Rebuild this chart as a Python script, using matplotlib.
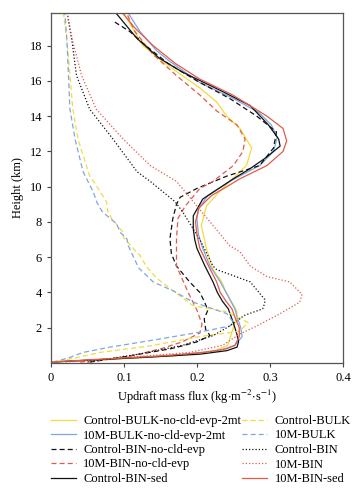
import matplotlib
matplotlib.use("Agg")
import matplotlib.pyplot as plt

plt.rcParams['font.family'] = ['Liberation Serif', 'DejaVu Serif']
plt.rcParams['mathtext.fontset'] = 'stix'

# (updraft mass flux, height km)
ctrl_bulk_2mt_h = [0.05, 0.2, 0.4, 0.7, 1.0, 1.5, 2.0, 2.5, 2.9, 3.3, 4.0, 4.6, 5.3, 6.5, 7.8, 8.9, 9.6, 10.3, 11.2, 12.2, 13.3, 14.0, 14.8, 15.6, 16.3, 17.1, 18.0, 19.9]
ctrl_bulk_2mt_x = [0.0, 0.08, 0.17, 0.225, 0.242, 0.246, 0.25, 0.254, 0.255, 0.25, 0.24, 0.234, 0.222, 0.213, 0.206, 0.213, 0.228, 0.245, 0.268, 0.275, 0.259, 0.241, 0.227, 0.204, 0.18, 0.153, 0.126, 0.099]

m10_bulk_2mt_h = [0.05, 0.2, 0.4, 0.7, 1.0, 1.5, 2.0, 2.5, 3.07, 4.0, 4.6, 5.5, 6.5, 7.3, 8.2, 8.75, 9.5, 10.3, 11.2, 12.0, 12.8, 13.5, 14.2, 15.0, 15.9, 17.1, 17.7, 18.8, 19.9]
m10_bulk_2mt_x = [0.0, 0.07, 0.16, 0.23, 0.252, 0.262, 0.26, 0.256, 0.252, 0.24, 0.232, 0.218, 0.208, 0.202, 0.2, 0.202, 0.215, 0.245, 0.286, 0.305, 0.31, 0.302, 0.285, 0.25, 0.204, 0.163, 0.145, 0.122, 0.105]

ctrl_bin_sed_h = [0.05, 0.2, 0.34, 0.5, 0.7, 0.9, 1.2, 1.6, 2.0, 2.5, 3.07, 3.5, 4.0, 4.6, 5.5, 6.5, 7.0, 7.6, 8.35, 9.3, 9.9, 10.45, 11.0, 11.6, 12.3, 12.7, 13.5, 14.6, 15.4, 16.0, 16.5, 17.3, 18.4, 19.9]
ctrl_bin_sed_x = [0.0, 0.07, 0.136, 0.204, 0.241, 0.255, 0.257, 0.255, 0.252, 0.248, 0.243, 0.235, 0.228, 0.222, 0.211, 0.2, 0.197, 0.195, 0.195, 0.208, 0.23, 0.25, 0.272, 0.293, 0.314, 0.312, 0.298, 0.273, 0.235, 0.205, 0.18, 0.148, 0.118, 0.088]

m10_bin_sed_h = [0.05, 0.2, 0.4, 0.6, 0.8, 1.0, 1.5, 2.0, 2.5, 3.07, 3.5, 4.0, 4.6, 5.5, 6.5, 7.3, 8.0, 8.8, 9.5, 10.0, 10.45, 11.2, 12.0, 12.6, 13.3, 14.0, 15.2, 16.1, 17.0, 18.0, 19.0, 19.9]
m10_bin_sed_x = [0.0, 0.06, 0.15, 0.21, 0.24, 0.252, 0.258, 0.258, 0.253, 0.248, 0.24, 0.232, 0.227, 0.216, 0.204, 0.2, 0.198, 0.203, 0.22, 0.241, 0.259, 0.296, 0.318, 0.323, 0.318, 0.296, 0.249, 0.204, 0.17, 0.14, 0.115, 0.097]

ctrl_bin_nocld_h = [0.05, 0.34, 0.8, 0.97, 1.2, 1.55, 1.9, 2.5, 3.0, 3.5, 4.0, 4.6, 5.5, 6.2, 7.05, 8.2, 9.0, 9.4, 9.9, 10.6, 11.2, 12.2, 13.1, 14.0, 15.0, 16.0, 17.0, 18.0, 18.8, 19.4]
ctrl_bin_nocld_x = [0.053, 0.099, 0.163, 0.18, 0.2, 0.218, 0.212, 0.21, 0.215, 0.21, 0.204, 0.19, 0.172, 0.165, 0.163, 0.167, 0.172, 0.177, 0.2, 0.241, 0.286, 0.305, 0.309, 0.282, 0.245, 0.2, 0.16, 0.13, 0.108, 0.085]

m10_bin_nocld_h = [0.05, 0.3, 0.8, 1.2, 1.7, 2.2, 3.0, 4.0, 5.5, 7.05, 8.2, 8.9, 9.9, 10.3, 11.2, 12.0, 12.7, 13.5, 14.3, 15.2, 16.3, 17.5, 18.8, 19.9]
m10_bin_nocld_x = [0.04, 0.1, 0.15, 0.18, 0.204, 0.207, 0.2, 0.188, 0.172, 0.172, 0.174, 0.184, 0.204, 0.222, 0.25, 0.263, 0.266, 0.255, 0.227, 0.204, 0.172, 0.14, 0.115, 0.103]

ctrl_bin_h = [0.05, 0.5, 1.0, 1.55, 2.1, 2.7, 3.07, 3.4, 3.6, 4.6, 5.3, 5.5, 7.0, 8.6, 9.15, 10.3, 10.85, 12.7, 14.4, 16.3, 18.2, 19.9]
ctrl_bin_x = [0.05, 0.12, 0.18, 0.222, 0.245, 0.265, 0.29, 0.293, 0.293, 0.273, 0.227, 0.222, 0.204, 0.18, 0.17, 0.136, 0.118, 0.085, 0.053, 0.035, 0.029, 0.022]

m10_bin_h = [0.05, 0.3, 0.6, 1.0, 1.65, 2.1, 2.8, 3.45, 3.9, 4.6, 4.9, 5.5, 6.3, 6.65, 8.0, 9.15, 10.3, 11.2, 12.7, 14.4, 16.3, 18.2, 19.9]
m10_bin_x = [0.02, 0.1, 0.19, 0.235, 0.259, 0.282, 0.314, 0.341, 0.344, 0.327, 0.296, 0.273, 0.259, 0.245, 0.218, 0.195, 0.172, 0.136, 0.099, 0.062, 0.042, 0.03, 0.022]

m10_bulk_h = [0.05, 0.3, 0.6, 0.9, 1.36, 1.75, 2.1, 2.3, 2.8, 3.2, 3.45, 4.1, 4.6, 5.4, 6.65, 7.05, 7.4, 7.9, 8.2, 8.6, 9.1, 9.7, 10.85, 12.7, 14.4, 16.3, 18.2, 19.9]
m10_bulk_x = [0.003, 0.025, 0.044, 0.081, 0.149, 0.204, 0.245, 0.25, 0.241, 0.213, 0.195, 0.167, 0.14, 0.12, 0.106, 0.104, 0.095, 0.09, 0.081, 0.07, 0.063, 0.058, 0.044, 0.033, 0.026, 0.024, 0.022, 0.019]

ctrl_bulk_h = [0.05, 0.3, 0.6, 0.97, 1.5, 1.8, 2.3, 2.9, 3.25, 3.8, 4.8, 5.45, 6.1, 6.3, 7.15, 7.4, 8.2, 8.6, 9.15, 10.2, 10.6, 12.7, 14.4, 16.3, 18.2, 19.9]
ctrl_bulk_x = [0.0, 0.035, 0.067, 0.136, 0.204, 0.259, 0.27, 0.241, 0.195, 0.177, 0.145, 0.131, 0.122, 0.117, 0.099, 0.099, 0.083, 0.078, 0.076, 0.06, 0.053, 0.037, 0.03, 0.026, 0.022, 0.017]

YEL, BLU, RED, BLK = '#f2dc3c', '#7ea6e0', '#e25a4a', '#111111'
DASH, DOT = (0, (4, 2.5)), (0, (1, 1.6))

fig = plt.figure(figsize=(3.64, 5.0), dpi=100)
ax = fig.add_axes([0.14, 0.274, 0.802, 0.70])

# column-major order so the 2-col legend reads like the original
series = [
    (ctrl_bulk_2mt_x, ctrl_bulk_2mt_h, YEL, '-', 'Control-BULK-no-cld-evp-2mt'),
    (m10_bulk_2mt_x, m10_bulk_2mt_h, BLU, '-', '10M-BULK-no-cld-evp-2mt'),
    (ctrl_bin_nocld_x, ctrl_bin_nocld_h, BLK, DASH, 'Control-BIN-no-cld-evp'),
    (m10_bin_nocld_x, m10_bin_nocld_h, RED, DASH, '10M-BIN-no-cld-evp'),
    (ctrl_bin_sed_x, ctrl_bin_sed_h, BLK, '-', 'Control-BIN-sed'),
    (ctrl_bulk_x, ctrl_bulk_h, YEL, DASH, 'Control-BULK'),
    (m10_bulk_x, m10_bulk_h, BLU, DASH, '10M-BULK'),
    (ctrl_bin_x, ctrl_bin_h, BLK, DOT, 'Control-BIN'),
    (m10_bin_x, m10_bin_h, RED, DOT, '10M-BIN'),
    (m10_bin_sed_x, m10_bin_sed_h, RED, '-', '10M-BIN-sed'),
]
for x, h, c, ls, lab in series:
    ax.plot(x, h, color=c, ls=ls, lw=0.9, label=lab)

ax.set_xlim(0, 0.4)
ax.set_ylim(0, 19.85)
ax.set_xticks([0, 0.1, 0.2, 0.3, 0.4])
ax.set_xticklabels(['0', '0.1', '0.2', '0.3', '0.4'])
ax.set_yticks(range(2, 19, 2))
ax.tick_params(labelsize=9, length=3, width=0.8, color='#444444', direction='out')
for s in ax.spines.values():
    s.set_color('#555555')
    s.set_linewidth(0.9)
ax.set_xlabel('Updraft mass flux (kg$\\cdot$m$^{-2}$$\\cdot$s$^{-1}$)', fontsize=9, labelpad=3)
ax.set_ylabel('Height (km)', fontsize=9, labelpad=4)

fig.legend(loc='upper left', bbox_to_anchor=(0.125, 0.18), ncol=2, frameon=False,
           fontsize=9, handlelength=2.0, handletextpad=0.6, columnspacing=0.1,
           labelspacing=0.2, borderaxespad=0)

fig.savefig('out.png', dpi=100)
